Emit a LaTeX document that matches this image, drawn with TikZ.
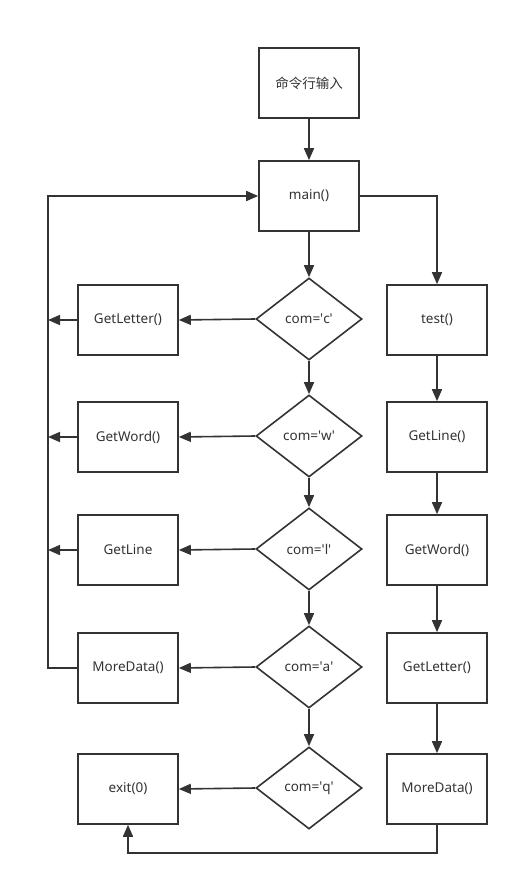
\documentclass[tikz,border=0pt]{standalone}
\usepackage{fontspec}
\setmainfont{Noto Sans}
\newfontfamily\cjk{Noto Sans CJK SC}
\usetikzlibrary{shapes.geometric,arrows.meta}
\definecolor{ink}{HTML}{333333}
\newcommand{\q}[1]{com=\textquotesingle #1\textquotesingle}
\tikzset{
  box/.style={draw=ink,line width=1.6pt,minimum width=100pt,minimum height=70pt,inner sep=0pt,text=ink,font=\fontsize{13.5}{16}\selectfont},
  test/.style={diamond,draw=ink,line width=1.6pt,minimum width=106pt,minimum height=82pt,inner sep=0pt,text=ink,font=\fontsize{13.5}{16}\selectfont},
  arr/.style={draw=ink,line width=1.6pt,-{Triangle[length=12pt,width=10pt]}},
  ln/.style={draw=ink,line width=1.6pt}
}
\begin{document}
\begin{tikzpicture}[x=1pt,y=-1pt]
                \useasboundingbox (0,0) rectangle (519,885);
                \node[box] (in) at (309,83) {\cjk 命令行输入};
                \node[box] (main) at (309,196) {main()};
                \node[test] (c) at (309,319) {\q{c}};
                \node[test] (w) at (309,436) {\q{w}};
                \node[test] (l) at (309,549) {\q{l}};
                \node[test] (a) at (309,667) {\q{a}};
                \node[test] (q) at (309,788) {\q{q}};
                \node[box] (lc) at (128,320) {GetLetter()};
                \node[box] (lw) at (128,437) {GetWord()};
                \node[box] (ll) at (128,550) {GetLine};
                \node[box] (la) at (128,668) {MoreData()};
                \node[box] (lq) at (128,789) {exit(0)};
                \node[box] (r1) at (437,320) {test()};
                \node[box] (r2) at (437,437) {GetLine()};
                \node[box] (r3) at (437,550) {GetWord()};
                \node[box] (r4) at (437,668) {GetLetter()};
                \node[box] (r5) at (437,789) {MoreData()};
                \coordinate (lp) at (48,196);
                \coordinate (bt) at (437,853);
                \draw[arr] (in) -- (main);
                \draw[arr] (main) -- (c);
                \draw[arr] (c) -- (w);
                \draw[arr] (w) -- (l);
                \draw[arr] (l) -- (a);
                \draw[arr] (a) -- (q);
                \draw[arr] (main.east) -| (r1.north);
                \draw[arr] (r1) -- (r2);
                \draw[arr] (r2) -- (r3);
                \draw[arr] (r3) -- (r4);
                \draw[arr] (r4) -- (r5);
                \draw[arr] (c.west) -- (lc.east);
                \draw[arr] (w.west) -- (lw.east);
                \draw[arr] (l.west) -- (ll.east);
                \draw[arr] (a.west) -- (la.east);
                \draw[arr] (q.west) -- (lq.east);
                \draw[arr] (lc.west) -- (lc.west -| lp);
                \draw[arr] (lw.west) -- (lw.west -| lp);
                \draw[arr] (ll.west) -- (ll.west -| lp);
                \draw[arr] (la.west) -| (lp) -- (main.west);
                \draw[arr] (r5.south) -- (bt) -| (lq.south);
            \end{tikzpicture}
\end{document}
